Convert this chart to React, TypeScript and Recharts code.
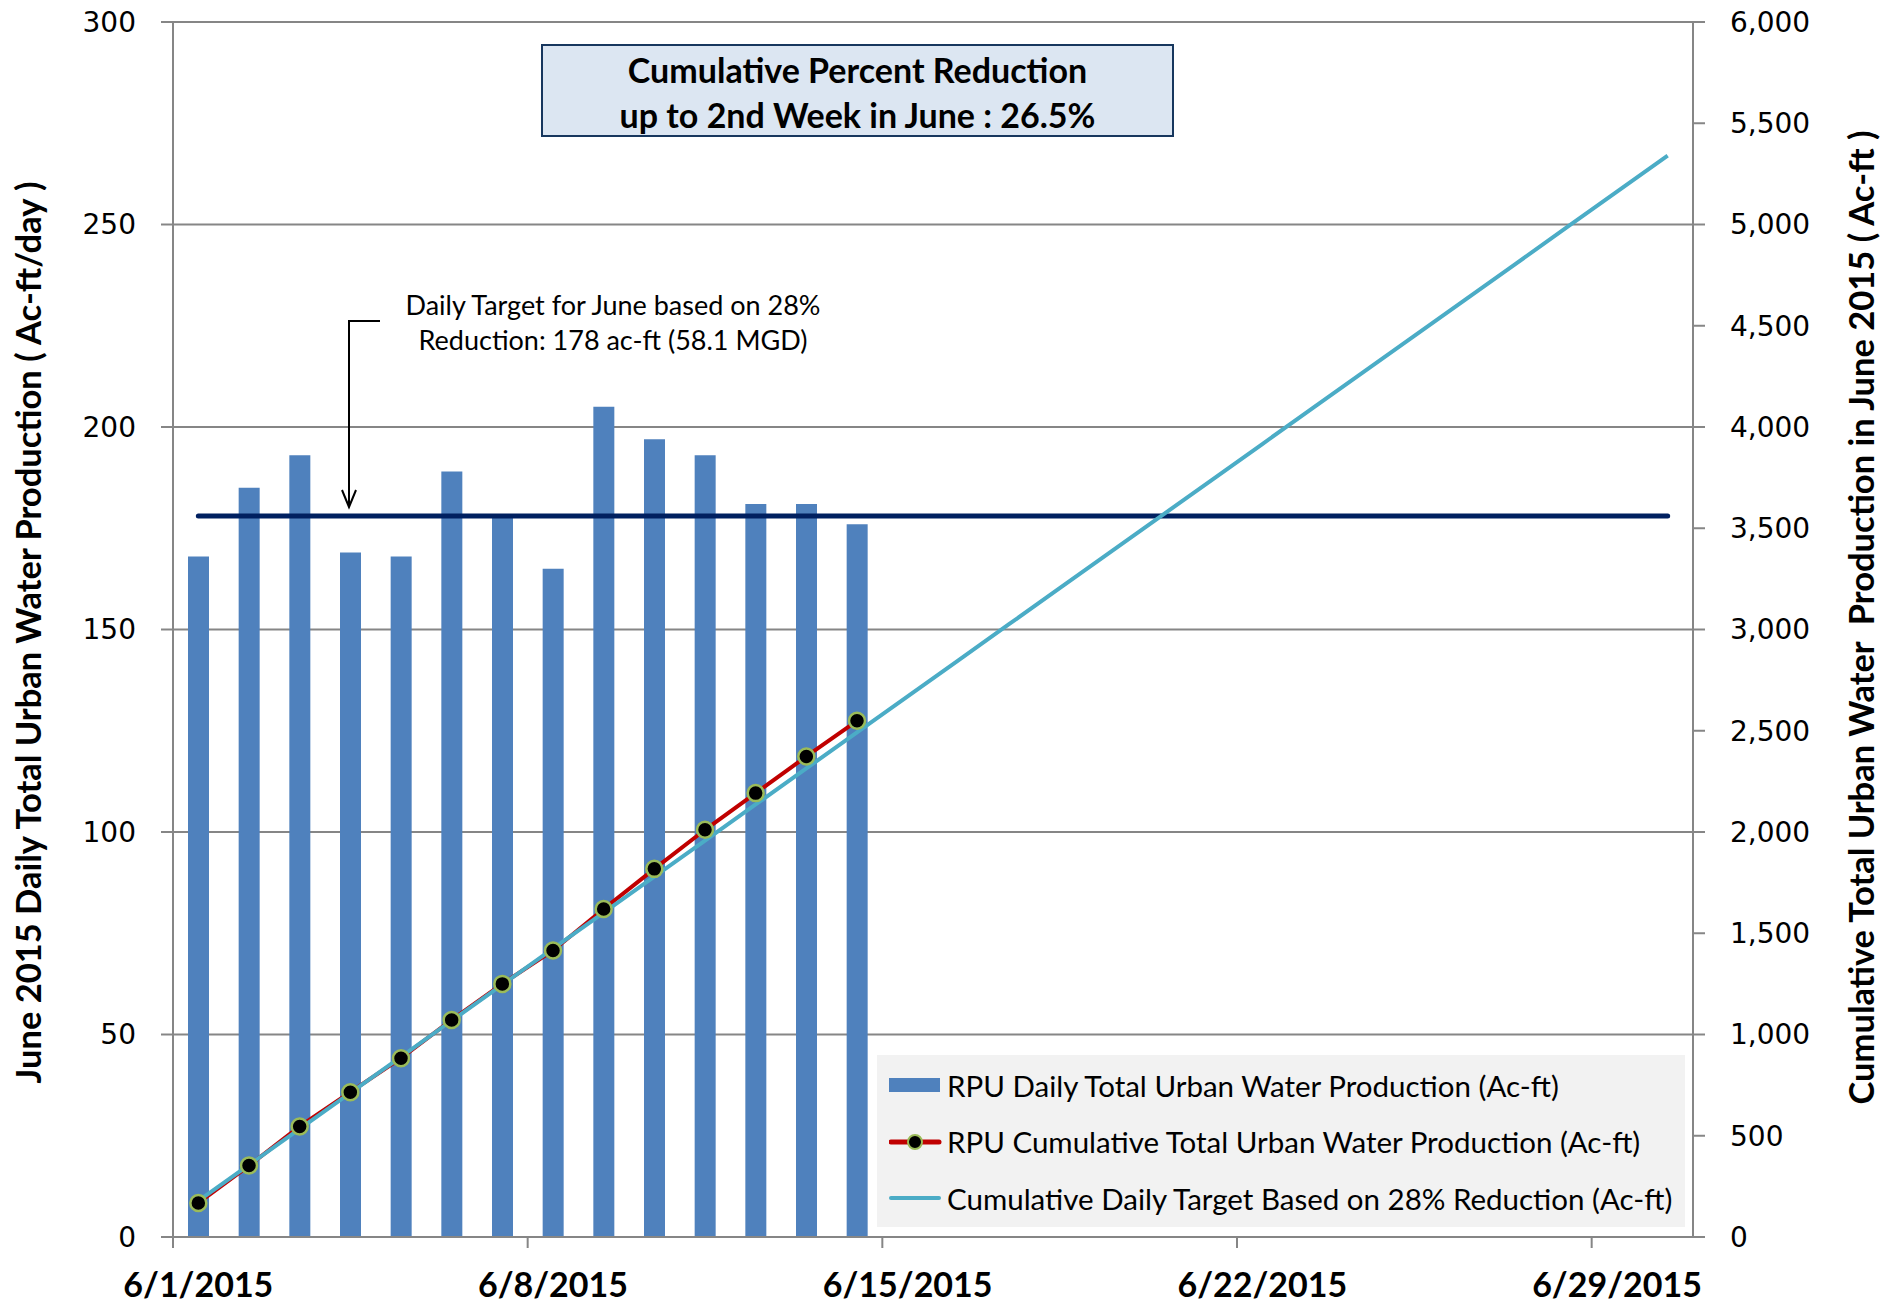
import React from 'react'
import { ComposedChart, Bar, Line, XAxis, YAxis, CartesianGrid } from 'recharts'

// daily production, 6/1 .. 6/14
const dailyProduction = [168, 185, 193, 169, 168, 189, 178, 165, 205, 197, 193, 181, 181, 176]
// cumulative production (red line with markers)
const cumulativeProduction = [168, 353, 546, 715, 883, 1072, 1250, 1415, 1620, 1818, 2011, 2192, 2373, 2549]
// cumulative target at 178 ac-ft/day, 6/1 .. 6/30
const cumulativeTarget = [
  178, 356, 534, 712, 890, 1068, 1246, 1424, 1602, 1780,
  1958, 2136, 2314, 2492, 2670, 2848, 3026, 3204, 3382, 3560,
  3738, 3916, 4094, 4272, 4450, 4628, 4806, 4984, 5162, 5340,
]
const DAILY_TARGET = 178

const dayTicks = [0, 7, 14, 21, 28]
const dayTickLabels = ['6/1/2015', '6/8/2015', '6/15/2015', '6/22/2015', '6/29/2015']
const leftTicks = [0, 50, 100, 150, 200, 250, 300]
const rightTicks = [0, 500, 1000, 1500, 2000, 2500, 3000, 3500, 4000, 4500, 5000, 5500, 6000]

const legendLabels = [
  'RPU Daily Total Urban Water Production (Ac-ft)',
  'RPU Cumulative Total Urban Water Production (Ac-ft)',
  'Cumulative Daily Target Based on 28% Reduction (Ac-ft)',
]

const W = 1898
const H = 1305
const LEFT_W = 173
const RIGHT_W = 205
const X_H = 68
const TOP = 22
const PLOT_W = W - LEFT_W - RIGHT_W
const DAYS = 30

const GRID = '#868686'
const BAR = '#4f81bd'
const NAVY = '#002060'
const RED = '#c00000'
const CYAN = '#4bacc6'

const rows = cumulativeTarget.map((t, i) => ({
  day: i + 0.5,
  daily: dailyProduction[i],
  cumulative: cumulativeProduction[i],
  target: t,
  dailyTarget: DAILY_TARGET,
}))

const fmt = (v: number) => v.toLocaleString('en-US')

// Excel date axis: labels sit in the middle of the day slot, ticks on the boundary
const DateTick = (props: any) => {
  const { x, y, payload } = props
  const half = PLOT_W / DAYS / 2
  const idx = dayTicks.indexOf(payload.value)
  return (
    <text x={x + half} y={y + 47} textAnchor="middle" fontFamily="Lato" fontWeight={700} fontSize={34} fill="#000">
      {dayTickLabels[idx]}
    </text>
  )
}

const axisTitle = (text: string, dx: number, dy: number) => (props: any) => {
  const vb = props.viewBox
  const cx = vb.x + dx
  const cy = vb.y + vb.height / 2 + dy
  return (
    <text
      x={cx}
      y={cy}
      transform={`rotate(-90, ${cx}, ${cy})`}
      textAnchor="middle"
      dominantBaseline="central"
      fontFamily="Lato"
      fontWeight={700}
      fontSize={34.5}
      fill="#000"
      style={{ whiteSpace: 'pre' }}
    >
      {text}
    </text>
  )
}

const tickStyle = { fontFamily: 'DejaVu Sans', fontSize: 28, fill: '#000' }

export default function App() {
  return (
    <div style={{ position: 'absolute', left: 0, top: 0, width: W, height: H }}>
      <ComposedChart width={W} height={H} data={rows} margin={{ top: TOP, right: 0, bottom: 0, left: 0 }}>
        <CartesianGrid yAxisId="left" vertical={false} stroke={GRID} strokeWidth={2} />
        <XAxis
          dataKey="day"
          type="number"
          domain={[0, DAYS]}
          ticks={dayTicks}
          height={X_H}
          axisLine={{ stroke: GRID, strokeWidth: 2 }}
          tickLine={{ stroke: GRID, strokeWidth: 2 }}
          tickSize={11}
          tick={<DateTick />}
          interval={0}
        />
        <YAxis
          yAxisId="left"
          width={LEFT_W}
          domain={[0, 300]}
          ticks={leftTicks}
          axisLine={{ stroke: GRID, strokeWidth: 2 }}
          tickLine={{ stroke: GRID, strokeWidth: 2 }}
          tickSize={12}
          tickMargin={25}
          tick={tickStyle}
          interval={0}
          label={{ content: axisTitle('June 2015 Daily Total Urban Water Production ( Ac-ft/day )', 27, 3) }}
        />
        <YAxis
          yAxisId="right"
          orientation="right"
          width={RIGHT_W}
          domain={[0, 6000]}
          ticks={rightTicks}
          tickFormatter={fmt}
          axisLine={{ stroke: GRID, strokeWidth: 2 }}
          tickLine={{ stroke: GRID, strokeWidth: 2 }}
          tickSize={12}
          tickMargin={25}
          tick={{ ...tickStyle, textAnchor: 'start' }}
          interval={0}
          label={{ content: axisTitle('Cumulative Total Urban Water  Production in June 2015 ( Ac-ft )', 167, -12) }}
        />
        <Bar yAxisId="left" dataKey="daily" fill={BAR} barSize={21} isAnimationActive={false} />
        <Line
          yAxisId="left"
          dataKey="dailyTarget"
          stroke={NAVY}
          strokeWidth={5}
          strokeLinecap="round"
          dot={false}
          activeDot={false}
          isAnimationActive={false}
        />
        <Line
          yAxisId="right"
          dataKey="cumulative"
          stroke={RED}
          strokeWidth={4}
          dot={{ r: 8, fill: '#000', stroke: '#9bbb59', strokeWidth: 2.5 }}
          activeDot={false}
          isAnimationActive={false}
        />
        <Line
          yAxisId="right"
          dataKey="target"
          stroke={CYAN}
          strokeWidth={4}
          dot={false}
          activeDot={false}
          isAnimationActive={false}
        />
      </ComposedChart>

      {/* annotation with arrow */}
      <svg width={W} height={H} style={{ position: 'absolute', left: 0, top: 0, pointerEvents: 'none' }}>
        <g fontFamily="Lato" fontSize={27} fill="#000" textAnchor="middle">
          <text x={613} y={304} dominantBaseline="central">Daily Target for June based on 28%</text>
          <text x={613} y={339} dominantBaseline="central">Reduction: 178 ac-ft (58.1 MGD)</text>
        </g>
        <polyline points="380,321 349,321 349,507" fill="none" stroke="#000" strokeWidth={2} />
        <polyline points="342,490 349,507 356,490" fill="none" stroke="#000" strokeWidth={2} />
      </svg>

      {/* summary box */}
      <div
        style={{
          position: 'absolute',
          left: 541,
          top: 44,
          width: 633,
          height: 93,
          boxSizing: 'border-box',
          background: '#dce6f2',
          border: '2px solid #17375e',
          fontFamily: 'Lato',
          fontWeight: 700,
          fontSize: 34,
          lineHeight: '45px',
          textAlign: 'center',
          paddingTop: 1,
        }}
      >
        <div>Cumulative Percent Reduction</div>
        <div>up to 2nd Week in June : 26.5%</div>
      </div>

      {/* legend */}
      <div
        style={{
          position: 'absolute',
          left: 877,
          top: 1055,
          width: 808,
          height: 172,
          background: '#f2f2f2',
          fontFamily: 'Lato',
          fontSize: 29.5,
        }}
      >
        {legendLabels.map((label, i) => (
          <div
            key={label}
            style={{ position: 'absolute', left: 12, top: 30 + i * 56.7 - 20, height: 40, display: 'flex', alignItems: 'center' }}
          >
            <svg width={54} height={20} style={{ marginRight: 4 }}>
              {i === 0 && <rect x={0} y={3} width={51} height={14} fill={BAR} />}
              {i === 1 && (
                <>
                  <line x1={2} y1={10} x2={50} y2={10} stroke={RED} strokeWidth={5} strokeLinecap="round" />
                  <circle cx={26} cy={10} r={7} fill="#000" stroke="#9bbb59" strokeWidth={2} />
                </>
              )}
              {i === 2 && <line x1={2} y1={10} x2={50} y2={10} stroke={CYAN} strokeWidth={4} strokeLinecap="round" />}
            </svg>
            <span>{label}</span>
          </div>
        ))}
      </div>
    </div>
  )
}
